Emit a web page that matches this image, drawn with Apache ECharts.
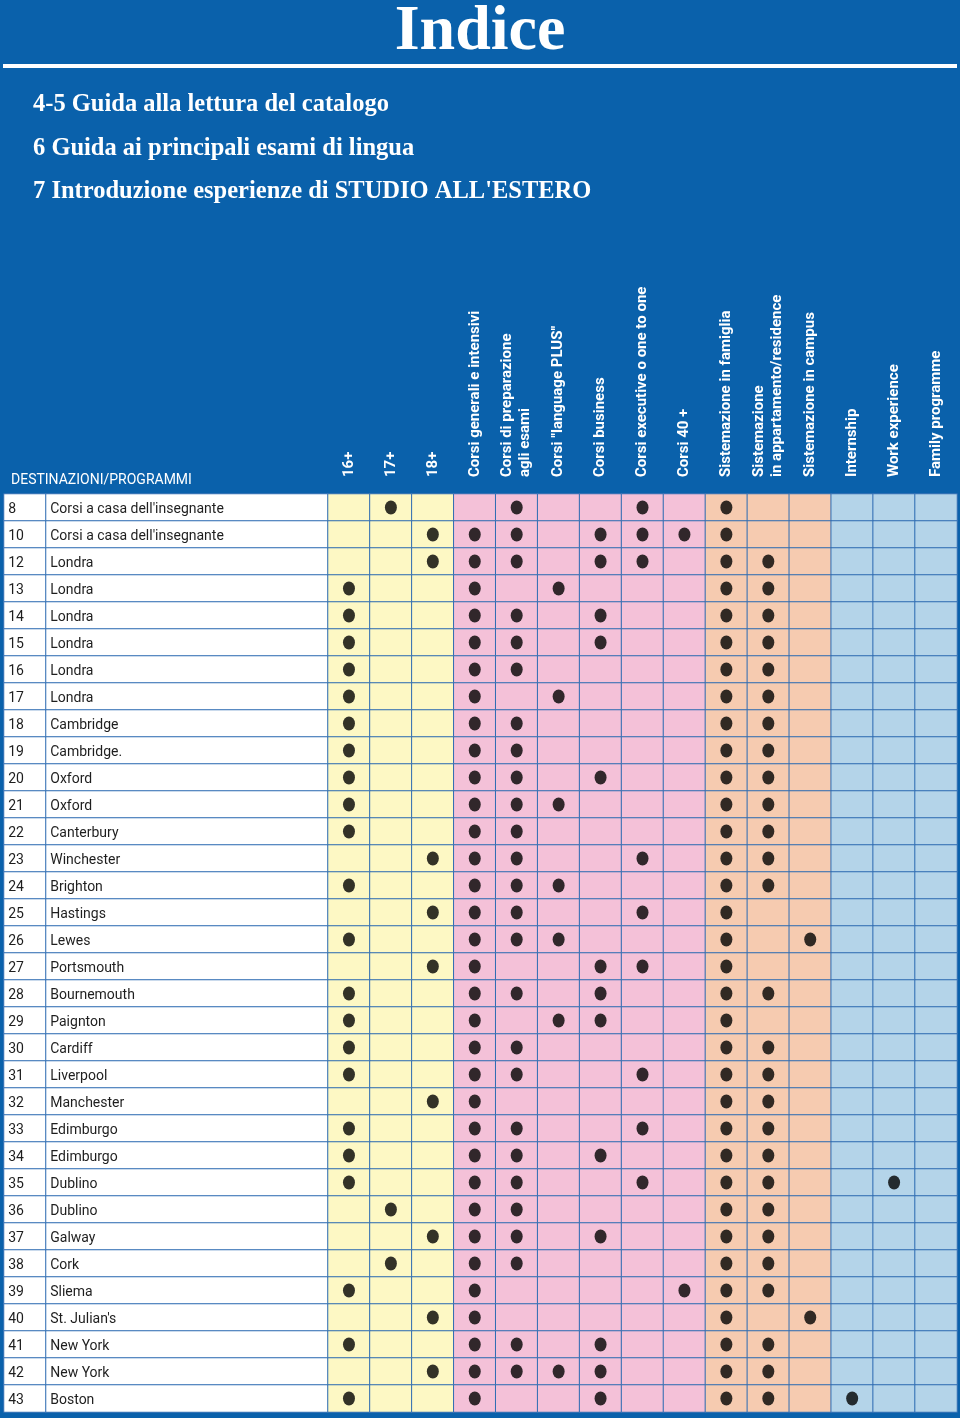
<!DOCTYPE html>
<html>
<head>
<meta charset="utf-8">
<script src="https://cdn.jsdelivr.net/npm/echarts@6/dist/echarts.min.js"></script>
<style>
html,body{margin:0;padding:0;background:#0a61ab;}
#chart{width:960px;height:1418px;}
</style>
</head>
<body>
<div id="chart"></div>
<script>
// ---- data ----
const columns = ['16+', '17+', '18+', 'Corsi generali e intensivi', 'Corsi di preparazione\nagli esami',
  'Corsi "language PLUS"', 'Corsi business', 'Corsi executive o one to one', 'Corsi 40 +',
  'Sistemazione in famiglia', 'Sistemazione\nin appartamento/residence', 'Sistemazione in campus',
  'Internship', 'Work experience', 'Family programme'];
const columnGroups = [0,0,0,1,1,1,1,1,1,2,2,2,3,3,3];
const rowPages = ['8','10','12','13','14','15','16','17','18','19','20','21','22','23','24','25','26',
  '27','28','29','30','31','32','33','34','35','36','37','38','39','40','41','42','43'];
const rowNames = ["Corsi a casa dell'insegnante","Corsi a casa dell'insegnante",'Londra','Londra','Londra',
  'Londra','Londra','Londra','Cambridge','Cambridge.','Oxford','Oxford','Canterbury','Winchester',
  'Brighton','Hastings','Lewes','Portsmouth','Bournemouth','Paignton','Cardiff','Liverpool',
  'Manchester','Edimburgo','Edimburgo','Dublino','Dublino','Galway','Cork','Sliema',"St. Julian's",
  'New York','New York','Boston'];
// column indices with a dot, one list per row
const rowDots = [
  [1,4,7,9],
  [2,3,4,6,7,8,9],
  [2,3,4,6,7,9,10],
  [0,3,5,9,10],
  [0,3,4,6,9,10],
  [0,3,4,6,9,10],
  [0,3,4,9,10],
  [0,3,5,9,10],
  [0,3,4,9,10],
  [0,3,4,9,10],
  [0,3,4,6,9,10],
  [0,3,4,5,9,10],
  [0,3,4,9,10],
  [2,3,4,7,9,10],
  [0,3,4,5,9,10],
  [2,3,4,7,9],
  [0,3,4,5,9,11],
  [2,3,6,7,9],
  [0,3,4,6,9,10],
  [0,3,5,6,9],
  [0,3,4,9,10],
  [0,3,4,7,9,10],
  [2,3,9,10],
  [0,3,4,7,9,10],
  [0,3,4,6,9,10],
  [0,3,4,7,9,10,13],
  [1,3,4,9,10],
  [2,3,4,6,9,10],
  [1,3,4,9,10],
  [0,3,8,9,10],
  [2,3,9,11],
  [0,3,4,6,9,10],
  [2,3,4,5,6,9,10],
  [0,3,6,9,10,12]
];
const tocLines = ['4-5 Guida alla lettura del catalogo', '6 Guida ai principali esami di lingua',
  "7 Introduzione esperienze di STUDIO ALL'ESTERO"];

// ---- styles ----
const groupColors = ['#fdf8c4', '#f4c1d8', '#f6cbb0', '#b4d4e9'];
const lineColor = '#2f6cb2';
const rowIdx = rowPages.map((_, i) => i);

const bgCells = [], dots = [], pageCells = [], nameCells = [];
rowIdx.forEach(r => {
  columns.forEach((c, ci) => bgCells.push({value: [ci, r, columnGroups[ci]], itemStyle: {color: groupColors[columnGroups[ci]]}}));
  rowDots[r].forEach(ci => dots.push([ci, r]));
  pageCells.push({value: [0, r, 0], name: rowPages[r]});
  nameCells.push({value: [0, r, 0], name: rowNames[r]});
});

const tableTop = 494, tableHeight = 918;
const grids = [
  {left: 4, width: 42, top: tableTop, height: tableHeight},
  {left: 46, width: 282, top: tableTop, height: tableHeight},
  {left: 328, width: 629, top: tableTop, height: tableHeight}
];
const yAxes = grids.map((g, i) => ({type: 'category', gridIndex: i, inverse: true, data: rowIdx, show: false}));
const xAxes = [
  {type: 'category', gridIndex: 0, data: ['n'], show: false},
  {type: 'category', gridIndex: 1, data: ['name'], show: false},
  {type: 'category', gridIndex: 2, data: columns, position: 'top',
    axisLine: {show: false}, axisTick: {show: false}, splitLine: {show: false},
    axisLabel: {interval: 0, rotate: -90, margin: 17, color: '#ffffff', fontFamily: 'Roboto',
      fontWeight: 'bold', fontSize: 15, lineHeight: 18}}
];
const cellLabel = {show: true, position: 'insideLeft', distance: 5, color: '#1e1e1e', fontFamily: 'Roboto',
  fontSize: 14, offset: [0, 2], formatter: p => p.name};

const chart = echarts.init(document.getElementById('chart'), null, {renderer: 'canvas'});
chart.setOption({
  backgroundColor: '#0a61ab',
  animation: false,
  grid: grids,
  xAxis: xAxes,
  yAxis: yAxes,
  graphic: [
    {type: 'text', left: 'center', top: 0, style: {text: 'Indice', fill: '#fff',
      font: 'bold 64px "Liberation Serif"'}},
    {type: 'rect', shape: {x: 3, y: 64, width: 954, height: 4}, style: {fill: '#fff'}},
    ...tocLines.map((t, i) => ({type: 'text', x: 33, y: 105 + i * 43.5, style: {text: t, fill: '#fff',
      font: 'bold 24.5px "Liberation Serif"', verticalAlign: 'middle'}})),
    {type: 'text', x: 11, y: 480, style: {text: 'DESTINAZIONI/PROGRAMMI', fill: '#fff',
      font: '14px Roboto', verticalAlign: 'middle'}}
  ],
  series: [
    {type: 'heatmap', xAxisIndex: 0, yAxisIndex: 0, data: pageCells, label: cellLabel,
      itemStyle: {color: '#fff', borderColor: lineColor, borderWidth: 1}, emphasis: {disabled: true}},
    {type: 'heatmap', xAxisIndex: 1, yAxisIndex: 1, data: nameCells, label: cellLabel,
      itemStyle: {color: '#fff', borderColor: lineColor, borderWidth: 1}, emphasis: {disabled: true}},
    {type: 'heatmap', xAxisIndex: 2, yAxisIndex: 2, data: bgCells,
      itemStyle: {borderColor: lineColor, borderWidth: 1}, emphasis: {disabled: true}},
    {type: 'scatter', xAxisIndex: 2, yAxisIndex: 2, data: dots, symbol: 'circle', symbolSize: [12, 14],
      itemStyle: {color: '#000'}, z: 5}
  ]
});
</script>
</body>
</html>
